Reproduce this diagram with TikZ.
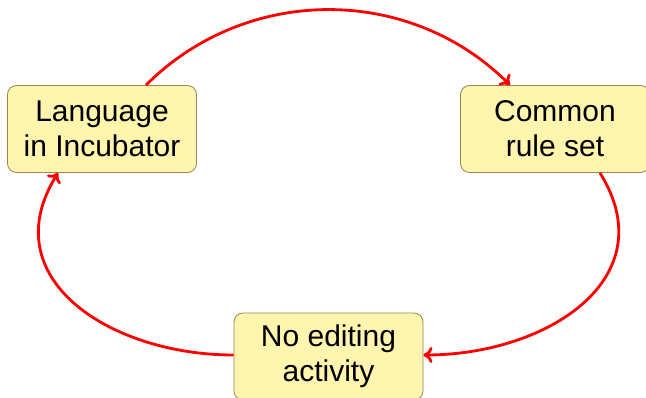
\documentclass[tikz,border=0pt]{standalone}
\usepackage{fontspec}
\setmainfont{Liberation Sans}
\usetikzlibrary{positioning,arrows.meta}
\definecolor{boxfill}{RGB}{255,245,175}
\definecolor{boxline}{RGB}{150,135,80}

\begin{document}
\begin{tikzpicture}[x=1pt,y=1pt,
  stage/.style={draw=boxline, fill=boxfill, rounded corners=9pt, line width=0.8pt,
    minimum width=189pt, minimum height=87pt, align=center,
    font=\fontsize{30}{35}\selectfont},
  flow/.style={-{To[length=9pt,width=16pt]}, red, line width=2.8pt}]

\useasboundingbox (0,0) rectangle (646,397);

% Stages
\node[stage] (incubator) at (102,268) {Language\\in Incubator};
\node[stage] (rules) at (555,268) {Common\\rule set};
\node[stage] (idle) at (328.5,40.5) {No editing\\activity};

% Cycle
\draw[flow] ([xshift=44pt]incubator.north) to[out=45,in=135] ([xshift=-45pt]rules.north);
\draw[flow] ([xshift=45pt]rules.south) to[out=-58,in=0,looseness=1.25] ([yshift=1.5pt]idle.east);
\draw[flow] ([yshift=1.5pt]idle.west) to[out=180,in=-122,looseness=1.25] ([xshift=-44pt]incubator.south);

\end{tikzpicture}
\end{document}
